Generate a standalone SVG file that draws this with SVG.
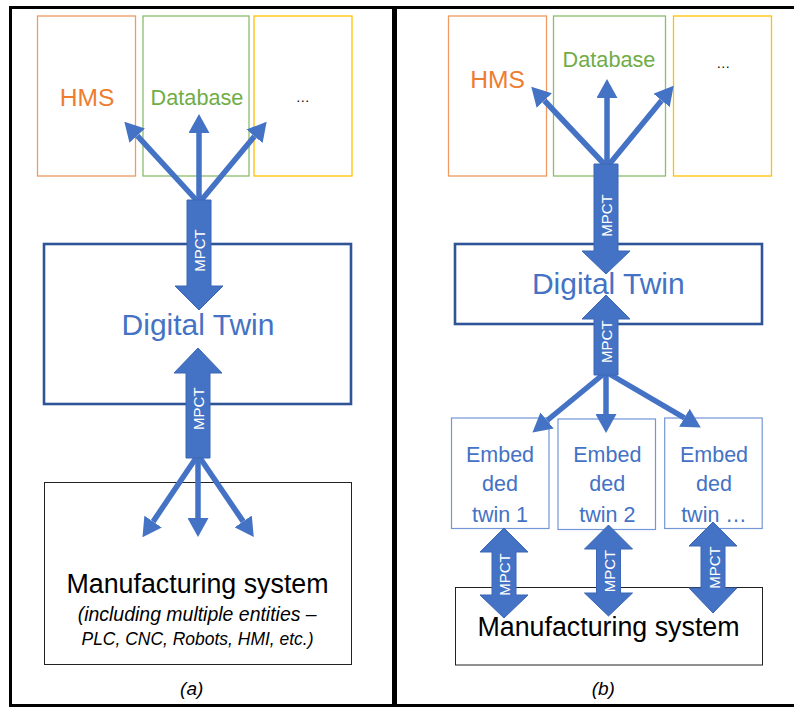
<svg xmlns="http://www.w3.org/2000/svg" width="794" height="707" viewBox="0 0 794 707">
<style>
.frame{fill:none;stroke:#000;stroke-width:3}
.t{font-family:"Liberation Sans",Arial,sans-serif}
.blue{fill:#4472C4}
.mp{font-family:"Liberation Sans",Arial,sans-serif;font-size:15px;fill:#fff;text-anchor:middle}
.ln{stroke:#4472C4;stroke-width:5.5;fill:none;marker-end:url(#ah)}
.blk{fill:#4472C4;stroke:#3A66B5;stroke-width:1}
.emb{fill:#fff;stroke:#7396D6;stroke-width:1.2}
.et{font-family:"Liberation Sans",Arial,sans-serif;font-size:21.5px;fill:#4472C4;text-anchor:middle}
</style>
<defs>
<marker id="ah" markerUnits="userSpaceOnUse" markerWidth="19" markerHeight="21" viewBox="0 0 19 21" refX="0" refY="10.5" orient="auto">
<path d="M0,0 L19,10.5 L0,21 Z" fill="#4472C4"/>
</marker>
</defs>
<rect width="794" height="707" fill="#fff"/>
<g id="panel-a-frame"><rect class="frame" x="10.5" y="7.5" width="383" height="698"/></g>
<g id="panel-b-frame"><rect class="frame" x="395.5" y="7.5" width="402" height="698"/></g>

<!-- Panel (a) -->
<g id="a-hms"><rect x="37.5" y="16" width="98" height="160" fill="#fff" stroke="#EE9A62" stroke-width="1.3"/>
<text class="t" x="87" y="106" font-size="24.6" fill="#ED7D31" text-anchor="middle">HMS</text></g>
<g id="a-database"><rect x="143" y="16" width="106" height="160" fill="#fff" stroke="#8CBC6C" stroke-width="1.3"/>
<text class="t" x="197" y="104.5" font-size="21.7" fill="#70AD47" text-anchor="middle">Database</text></g>
<g id="a-other"><rect x="254" y="16" width="98" height="160" fill="#fff" stroke="#FFC000" stroke-width="1.3"/>
<text class="t" x="302.7" y="102" font-size="14" fill="#000" text-anchor="middle">…</text></g>
<g id="a-digital-twin"><rect x="44" y="244" width="307" height="160" fill="#fff" stroke="#2F5597" stroke-width="2.6"/>
<text class="t" x="198" y="335" font-size="30" fill="#4472C4" text-anchor="middle">Digital Twin</text></g>
<g id="a-manufacturing"><rect x="44.5" y="482.5" width="307" height="182" fill="#fff" stroke="#222" stroke-width="1"/>
<text class="t" x="197.5" y="593.3" font-size="26.8" fill="#000" text-anchor="middle">Manufacturing system</text>
<text class="t" x="197.2" y="621" font-size="19.5" font-style="italic" fill="#000" text-anchor="middle" textLength="239" lengthAdjust="spacingAndGlyphs">(including multiple entities –</text>
<text class="t" x="197.5" y="645" font-size="19" font-style="italic" fill="#000" text-anchor="middle" textLength="232" lengthAdjust="spacingAndGlyphs">PLC, CNC, Robots, HMI, etc.)</text></g>
<g id="a-caption"><text class="t" x="191.7" y="695" font-size="19" font-style="italic" fill="#000" text-anchor="middle">(a)</text></g>

<!-- Panel (b) -->
<g id="b-hms"><rect x="448.5" y="16" width="98" height="160" fill="#fff" stroke="#EE9A62" stroke-width="1.3"/>
<text class="t" x="497.5" y="88.3" font-size="24.6" fill="#ED7D31" text-anchor="middle">HMS</text></g>
<g id="b-database"><rect x="553.5" y="16" width="112" height="160" fill="#fff" stroke="#8CBC6C" stroke-width="1.3"/>
<text class="t" x="609" y="66.7" font-size="21.7" fill="#70AD47" text-anchor="middle">Database</text></g>
<g id="b-other"><rect x="673.5" y="16" width="98" height="160" fill="#fff" stroke="#FFC000" stroke-width="1.3"/>
<text class="t" x="723.3" y="68" font-size="14" fill="#000" text-anchor="middle">…</text></g>
<g id="b-digital-twin"><rect x="455" y="244" width="307" height="80" fill="#fff" stroke="#2F5597" stroke-width="2.6"/>
<text class="t" x="608.3" y="294" font-size="30" fill="#4472C4" text-anchor="middle">Digital Twin</text></g>
<g id="b-embedded-1"><rect class="emb" x="451.5" y="418" width="97.5" height="110.5"/>
<text class="et" x="500" y="461.7">Embed</text><text class="et" x="500" y="491.2">ded</text><text class="et" x="500" y="521.7">twin 1</text></g>
<g id="b-embedded-2"><rect class="emb" x="558" y="419" width="97.5" height="110.5"/>
<text class="et" x="607.3" y="461.7">Embed</text><text class="et" x="607.3" y="491.2">ded</text><text class="et" x="607.3" y="521.7">twin 2</text></g>
<g id="b-embedded-3"><rect class="emb" x="664.7" y="418" width="97.5" height="110.5"/>
<text class="et" x="714" y="461.7">Embed</text><text class="et" x="714" y="491.2">ded</text><text class="et" x="714" y="521.7">twin …</text></g>
<g id="b-manufacturing"><rect x="455.5" y="587.5" width="307" height="77.5" fill="#fff" stroke="#222" stroke-width="1"/>
<text class="t" x="608.5" y="636" font-size="26.8" fill="#000" text-anchor="middle">Manufacturing system</text></g>
<g id="b-caption"><text class="t" x="603.3" y="695" font-size="19" font-style="italic" fill="#000" text-anchor="middle">(b)</text></g>

<g id="connectors">
<!-- (a) top fan -->
<line class="ln" x1="199" y1="203" x2="199" y2="133"/>
<line class="ln" x1="199" y1="203" x2="137.2" y2="135.7"/>
<line class="ln" x1="199" y1="203" x2="254.5" y2="136.3"/>
<!-- (a) bottom fan -->
<line class="ln" x1="198" y1="455" x2="198" y2="518"/>
<line class="ln" x1="198" y1="455" x2="153.1" y2="521.6"/>
<line class="ln" x1="198" y1="455" x2="243.1" y2="521.4"/>
<!-- (a) block arrows -->
<path class="blk" d="M187,200 H211 V286 H223 L199,310 L175,286 H187 Z"/>
<text class="mp" transform="translate(204.8,250.5) rotate(-90)">MPCT</text>
<path class="blk" d="M198,348 L222,373 H210 V458 H186 V373 H174 Z"/>
<text class="mp" transform="translate(204,408.7) rotate(-90)">MPCT</text>

<!-- (b) top fan -->
<line class="ln" x1="607" y1="167" x2="607" y2="98"/>
<line class="ln" x1="607" y1="167" x2="544.3" y2="100.5"/>
<line class="ln" x1="607" y1="167" x2="661.6" y2="100.4"/>
<!-- (b) bottom fan -->
<line class="ln" x1="606" y1="372" x2="606" y2="414"/>
<line class="ln" x1="606" y1="372" x2="547.1" y2="420.5"/>
<line class="ln" x1="606" y1="372" x2="684.4" y2="417.8"/>
<!-- (b) block arrows -->
<path class="blk" d="M594,164 H618 V251 H630 L606,274 L582,251 H594 Z"/>
<text class="mp" transform="translate(611.5,215.5) rotate(-90)">MPCT</text>
<path class="blk" d="M606,295 L630,319 H618 V375 H594 V319 H582 Z"/>
<text class="mp" transform="translate(611.5,341.7) rotate(-90)">MPCT</text>
<path class="blk" d="M504,528 L528,552 H516 V595 H528 L504,618 L480,595 H492 V552 H480 Z"/>
<text class="mp" transform="translate(509.8,574.5) rotate(-90)">MPCT</text>
<path class="blk" d="M608.5,525 L632.5,549 H620.5 V593 H632.5 L608.5,616 L584.5,593 H596.5 V549 H584.5 Z"/>
<text class="mp" transform="translate(614.5,571) rotate(-90)">MPCT</text>
<path class="blk" d="M713,522 L737,546 H725 V588 H737 L713,613 L689,588 H701 V546 H689 Z"/>
<text class="mp" transform="translate(719.5,567.5) rotate(-90)">MPCT</text>
</g>
</svg>
